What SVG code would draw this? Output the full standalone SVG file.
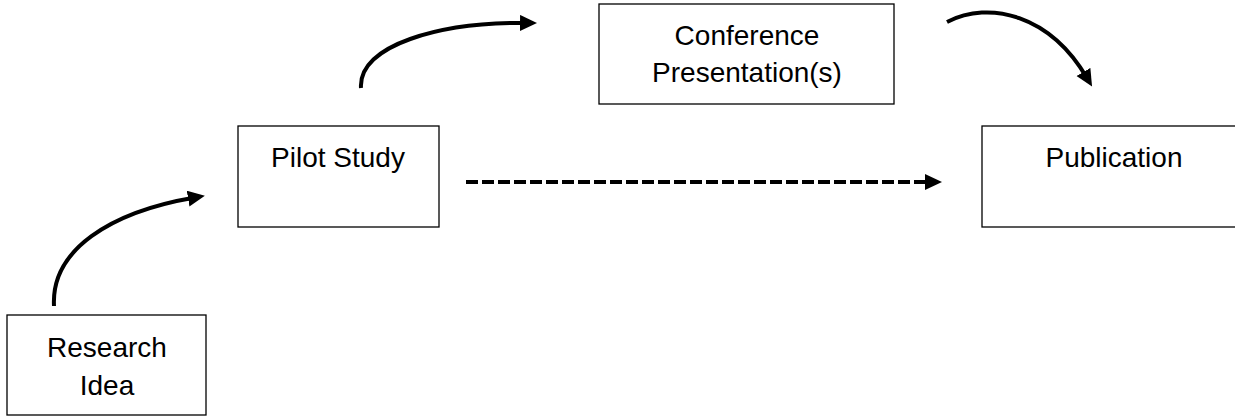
<svg xmlns="http://www.w3.org/2000/svg" width="1235" height="419" viewBox="0 0 1235 419">
<style>
.box{fill:#fff;stroke:#000;stroke-width:1.3}
.lbl{font-family:"Liberation Sans",Arial,sans-serif;font-size:28px;fill:#000;text-anchor:middle}
.arr{fill:none;stroke:#000;stroke-width:4}
.dash{stroke-dasharray:12 4}
</style>
<defs>
<marker id="ah" markerUnits="userSpaceOnUse" markerWidth="20" markerHeight="18" refX="7" refY="8" orient="auto" viewBox="0 0 20 18">
<path d="M0,0 L17,8 L0,16 z" fill="#000"/>
</marker>
</defs>
<rect width="1235" height="419" fill="#fff"/>
<g id="research-idea">
<rect class="box" x="7" y="315" width="199" height="100"/>
<text class="lbl" x="107" y="357">Research</text>
<text class="lbl" x="107" y="395">Idea</text>
</g>
<g id="pilot-study">
<rect class="box" x="238" y="126" width="201" height="101"/>
<text class="lbl" x="338" y="167">Pilot Study</text>
</g>
<g id="conference">
<rect class="box" x="599" y="4" width="295" height="100"/>
<text class="lbl" x="747" y="45">Conference</text>
<text class="lbl" x="747" y="82">Presentation(s)</text>
</g>
<g id="publication">
<rect class="box" x="982" y="126" width="264" height="101"/>
<text class="lbl" x="1114" y="167">Publication</text>
</g>
<g id="connectors">
<path class="arr" d="M54,306 C51,250 110,212 195,197.5" marker-end="url(#ah)"/>
<path class="arr" d="M361,88 C358,45 440,22 527,23" marker-end="url(#ah)"/>
<path class="arr" d="M947,22 C990,0 1050,15 1087,78" marker-end="url(#ah)"/>
<path class="arr dash" d="M466,182 L932,182" marker-end="url(#ah)"/>
</g>
</svg>
